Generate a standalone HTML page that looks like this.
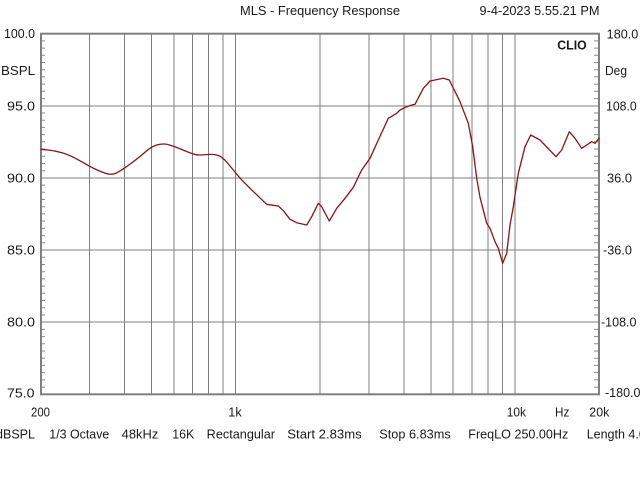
<!DOCTYPE html>
<html><head><meta charset="utf-8"><style>
html,body{margin:0;padding:0;background:#fff;width:640px;height:480px;overflow:hidden}
svg{display:block}
text{font-family:"Liberation Sans",Arial,sans-serif;font-size:12.5px;fill:#1a1a1a}
</style></head><body>
<svg width="640" height="480" viewBox="0 0 640 480" xmlns="http://www.w3.org/2000/svg">
<rect x="0" y="0" width="640" height="480" fill="#fff"/>
<g stroke="#7f7f7f" stroke-width="1" shape-rendering="crispEdges">
<line x1="89.7" y1="34" x2="89.7" y2="394"/>
<line x1="124.6" y1="34" x2="124.6" y2="394"/>
<line x1="151.7" y1="34" x2="151.7" y2="394"/>
<line x1="173.8" y1="34" x2="173.8" y2="394"/>
<line x1="192.5" y1="34" x2="192.5" y2="394"/>
<line x1="208.7" y1="34" x2="208.7" y2="394"/>
<line x1="223.0" y1="34" x2="223.0" y2="394"/>
<line x1="235.7" y1="34" x2="235.7" y2="394"/>
<line x1="319.8" y1="34" x2="319.8" y2="394"/>
<line x1="369.0" y1="34" x2="369.0" y2="394"/>
<line x1="403.9" y1="34" x2="403.9" y2="394"/>
<line x1="431.0" y1="34" x2="431.0" y2="394"/>
<line x1="453.1" y1="34" x2="453.1" y2="394"/>
<line x1="471.8" y1="34" x2="471.8" y2="394"/>
<line x1="488.0" y1="34" x2="488.0" y2="394"/>
<line x1="502.3" y1="34" x2="502.3" y2="394"/>
<line x1="515.1" y1="34" x2="515.1" y2="394"/>
<line x1="41" y1="105.8" x2="599" y2="105.8"/>
<line x1="41" y1="177.9" x2="599" y2="177.9"/>
<line x1="41" y1="250.1" x2="599" y2="250.1"/>
<line x1="41" y1="322.2" x2="599" y2="322.2"/>
</g>
<g stroke="#8a8a8a" stroke-width="1">
<path d="M42 40.9h3M42 48.1h3M42 55.3h3M42 62.5h3M42 69.7h3M42 76.9h3M42 84.1h3M42 91.3h3M42 98.6h3
M42 113.0h3M42 120.2h3M42 127.4h3M42 134.6h3M42 141.8h3M42 149.0h3M42 156.2h3M42 163.5h3M42 170.7h3
M42 185.1h3M42 192.3h3M42 199.5h3M42 206.7h3M42 213.9h3M42 221.1h3M42 228.4h3M42 235.6h3M42 242.8h3
M42 257.3h3M42 264.5h3M42 271.7h3M42 278.9h3M42 286.1h3M42 293.3h3M42 300.5h3M42 307.7h3M42 315.0h3
M42 329.4h3M42 336.6h3M42 343.8h3M42 351.0h3M42 358.2h3M42 365.4h3M42 372.6h3M42 379.9h3M42 387.1h3"/>
<path d="M598 40.9h-4M598 48.1h-4M598 55.3h-4M598 62.5h-4M598 69.7h-4M598 76.9h-4M598 84.1h-4M598 91.3h-4M598 98.6h-4
M598 113.0h-4M598 120.2h-4M598 127.4h-4M598 134.6h-4M598 141.8h-4M598 149.0h-4M598 156.2h-4M598 163.5h-4M598 170.7h-4
M598 185.1h-4M598 192.3h-4M598 199.5h-4M598 206.7h-4M598 213.9h-4M598 221.1h-4M598 228.4h-4M598 235.6h-4M598 242.8h-4
M598 257.3h-4M598 264.5h-4M598 271.7h-4M598 278.9h-4M598 286.1h-4M598 293.3h-4M598 300.5h-4M598 307.7h-4M598 315.0h-4
M598 329.4h-4M598 336.6h-4M598 343.8h-4M598 351.0h-4M598 358.2h-4M598 365.4h-4M598 372.6h-4M598 379.9h-4M598 387.1h-4"/>
</g>
<rect x="41" y="33.7" width="558" height="360.6" fill="none" stroke="#7f7f7f" stroke-width="2"/>
<path fill="none" stroke="#8b1414" stroke-width="1.3" stroke-linejoin="round" stroke-linecap="round" d="M41,149.3 L48,150 Q55,150.7 62.5,152.85 Q70,155 80,160.85 Q90,166.7 95,169 Q100,171.5 106,173.5 Q112,175.5 117.5,172.4 Q123,169.3 131.5,163 Q140,156.7 145.85,151.5 Q151.7,146.3 157.5,144.8 Q163.3,143.3 168.3,144.65 Q173.3,146 183.3,150.15 Q193.3,154.3 196.65,154.8 Q200,155.3 205.85,154.65 Q211.7,154 216.7,155 Q221.7,156 227.5,163 Q233.3,170 236.65,174.15 Q240,178.3 245,183.3 L250,188.3 L266.7,204.3 L278.3,206 L283.3,210.7 L290,219.3 L296.7,222.7 L306.7,225 L311.7,216.7 L318.3,203.3 L321.7,206.7 L329.3,221 L336.7,208.3 L345,198.3 L353.3,187.3 L361.7,170 L370,158.3 L378.3,140 L388.3,118.3 L396.7,113.3 L400,110 L406.7,106.7 L411.7,105 L415,104.3 L423.3,88.3 L430,81 L443.3,78.3 L449.3,80 L460,101.7 L468.3,123.3 L472.7,146.7 L476.7,178.3 L480,197.3 L486.7,223.3 L490,228.3 L495,241.7 L498.3,248.3 L502.7,263.3 L506.7,253.3 L510,225 L513.3,206.7 L518.3,173.3 L525,146.7 L530.7,135 L540,140 L556,156.7 L561.7,150 L569.3,131.7 L575,138.3 L581.7,148.3 L591.7,141.7 L595,143.3 L599,138.3"/>
<text x="240" y="15" textLength="160" lengthAdjust="spacingAndGlyphs">MLS - Frequency Response</text>
<text x="479.5" y="15" textLength="120" lengthAdjust="spacingAndGlyphs">9-4-2023 5.55.21 PM</text>
<text x="557.3" y="49.3" textLength="29.4" lengthAdjust="spacingAndGlyphs" style="font-weight:bold">CLIO</text>
<text x="4" y="37.8" textLength="31" lengthAdjust="spacingAndGlyphs">100.0</text>
<text x="1" y="75" textLength="34" lengthAdjust="spacingAndGlyphs">BSPL</text>
<text x="7" y="110.3" textLength="28" lengthAdjust="spacingAndGlyphs">95.0</text>
<text x="7" y="182.4" textLength="28" lengthAdjust="spacingAndGlyphs">90.0</text>
<text x="7" y="254.6" textLength="28" lengthAdjust="spacingAndGlyphs">85.0</text>
<text x="7" y="326.7" textLength="28" lengthAdjust="spacingAndGlyphs">80.0</text>
<text x="7" y="397.3" textLength="27.5" lengthAdjust="spacingAndGlyphs">75.0</text>
<text x="606.7" y="38.3" textLength="31.6" lengthAdjust="spacingAndGlyphs">180.0</text>
<text x="605" y="75" textLength="22" lengthAdjust="spacingAndGlyphs">Deg</text>
<text x="606" y="110.3" textLength="30.7" lengthAdjust="spacingAndGlyphs">108.0</text>
<text x="607" y="182.4" textLength="25" lengthAdjust="spacingAndGlyphs">36.0</text>
<text x="603" y="254.6" textLength="29" lengthAdjust="spacingAndGlyphs">-36.0</text>
<text x="601" y="326.7">-108.0</text>
<text x="605" y="397">-180.0</text>
<text x="31" y="416.7" textLength="19" lengthAdjust="spacingAndGlyphs">200</text>
<text x="228.3" y="416.7" textLength="13.4" lengthAdjust="spacingAndGlyphs">1k</text>
<text x="506.7" y="416.7" textLength="19.3" lengthAdjust="spacingAndGlyphs">10k</text>
<text x="555" y="416.7" textLength="14.3" lengthAdjust="spacingAndGlyphs">Hz</text>
<text x="589.3" y="416.7" textLength="20" lengthAdjust="spacingAndGlyphs">20k</text>
<text x="-4" y="438.3" textLength="39" lengthAdjust="spacingAndGlyphs">dBSPL</text>
<text x="49.3" y="438.3" textLength="60" lengthAdjust="spacingAndGlyphs">1/3 Octave</text>
<text x="121.7" y="438.3" textLength="36.6" lengthAdjust="spacingAndGlyphs">48kHz</text>
<text x="172.3" y="438.3" textLength="22" lengthAdjust="spacingAndGlyphs">16K</text>
<text x="206.7" y="438.3" textLength="68.3" lengthAdjust="spacingAndGlyphs">Rectangular</text>
<text x="287.3" y="438.3" textLength="74.4" lengthAdjust="spacingAndGlyphs">Start 2.83ms</text>
<text x="379.3" y="438.3" textLength="71.4" lengthAdjust="spacingAndGlyphs">Stop 6.83ms</text>
<text x="468.3" y="438.3" textLength="100" lengthAdjust="spacingAndGlyphs">FreqLO 250.00Hz</text>
<text x="586.7" y="438.3">Length 4.00ms</text>
</svg>
</body></html>
